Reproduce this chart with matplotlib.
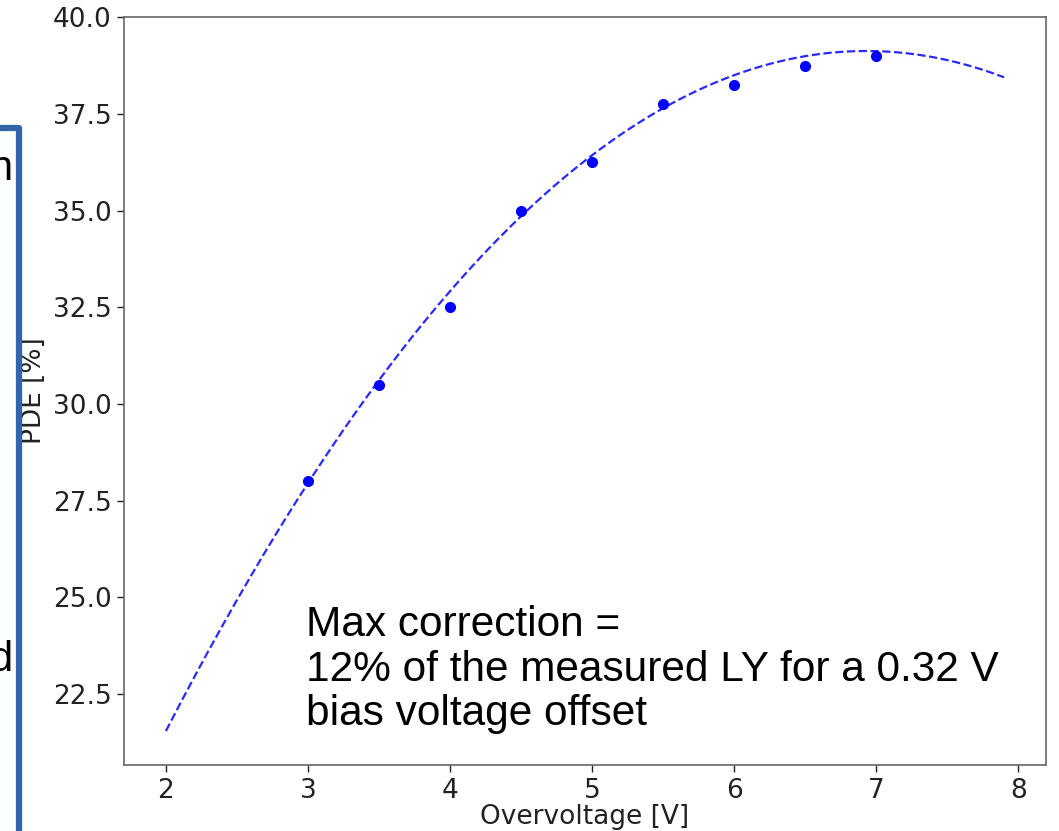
import numpy as np
import matplotlib
matplotlib.use("Agg")
import matplotlib.pyplot as plt
from matplotlib.lines import Line2D

plt.rcParams["font.family"] = ["DejaVu Sans"]

# data
overvoltage = [3.0, 3.5, 4.0, 4.5, 5.0, 5.5, 6.0, 6.5, 7.0]
pde = [28.0, 30.5, 32.5, 35.0, 36.25, 37.75, 38.25, 38.75, 39.0]
fit_coeffs = [-0.7234, 10.026, 4.39]   # quadratic fit shown as dashed curve
fit_range = (2.0, 7.9)
x_ticks = [2, 3, 4, 5, 6, 7, 8]
annotation = "Max correction =\n12% of the measured LY for a 0.32 V\nbias voltage offset"

W, H = 1059, 831
fig = plt.figure(figsize=(W / 100, H / 100), dpi=100)
ax = fig.add_axes([124 / W, 1 - 765 / H, (1046 - 124) / W, (765 - 17) / H])

xf = np.linspace(fit_range[0], fit_range[1], 300)
ax.plot(xf, np.polyval(fit_coeffs, xf), "--", color="#2a2aff", lw=1.6)
ax.plot(overvoltage, pde, "o", color="blue", ms=7)

ax.set_xticks(x_ticks)
ax.set_xlabel("Overvoltage [V]", fontsize=19, color="#222222", labelpad=0)
ax.set_ylabel("PDE [%]", fontsize=19, color="#222222", labelpad=4)
ax.tick_params(labelsize=19, colors="#222222", length=5, width=1, pad=4)
ax.yaxis.set_major_formatter(matplotlib.ticker.FormatStrFormatter("%.1f"))
for s in ax.spines.values():
    s.set_color("#666666")
    s.set_linewidth(1.2)

fig.text(306 / W, 1 - 605 / H, annotation, fontsize=30.5, family="Liberation Sans",
         va="top", ha="left", linespacing=1.15, color="black")

# slide box edge on the left
top = 1 - 128 / H
fig.add_artist(Line2D([-0.01, 18.5 / W, 18.5 / W], [top, top, -0.01],
                      color="#3465a4", lw=4.5, transform=fig.transFigure))
fig.text(12 / W, 1 - 180 / H, "n", fontsize=30, family="Liberation Sans",
         ha="right", va="baseline")
fig.text(12 / W, 1 - 671 / H, "d", fontsize=30, family="Liberation Sans",
         ha="right", va="baseline")

fig.savefig("out.png", dpi=100)
